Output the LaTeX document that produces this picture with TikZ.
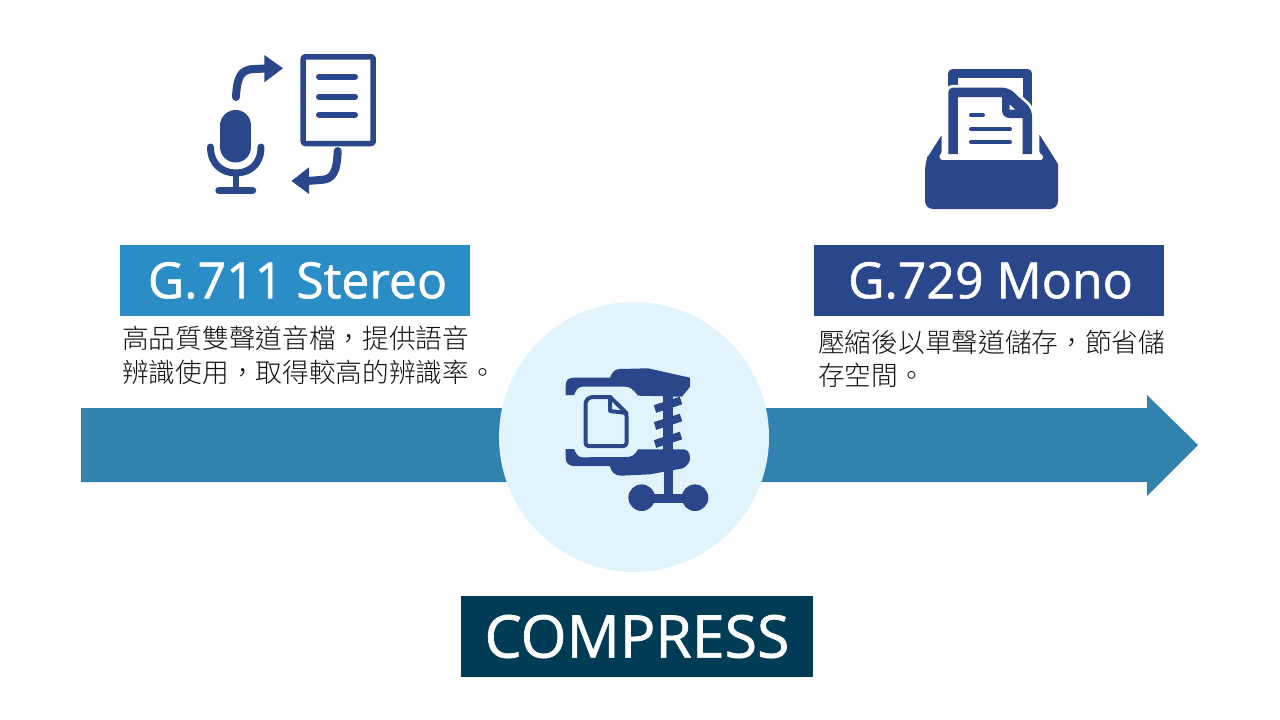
\documentclass[tikz,border=0pt]{standalone}
\usepackage{fontspec}
\setmainfont{Open Sans}
\newfontfamily\titlefont[FakeBold=1.1]{Open Sans}
\newfontfamily\cjkfont{Noto Sans CJK TC Light}
\definecolor{iconblue}{HTML}{2B478B}
\definecolor{stereoblue}{HTML}{2A8DC5}
\definecolor{arrowblue}{HTML}{3282B0}
\definecolor{circleblue}{HTML}{E1F4FE}
\definecolor{compressblue}{HTML}{003C55}
\definecolor{bodygray}{HTML}{111111}
\tikzset{
titlebox/.style={minimum width=350pt,minimum height=71pt,inner sep=0pt,text=white,font=\titlefont\fontsize{50}{50}\selectfont},
bodytext/.style={anchor=west,inner sep=0pt,text=bodygray,font=\cjkfont\fontsize{26.7}{26.7}\selectfont},
iconline/.style={draw=iconblue,line cap=round,line join=round},
iconfill/.style={fill=iconblue,line join=round}
}
\begin{document}
\begin{tikzpicture}[x=1pt,y=-1pt,line join=round,line cap=round]
\useasboundingbox (0,0) rectangle (1280,720);
% long arrow
\fill[arrowblue] (81,408)--(1147,408)--(1147,395)--(1198,445)--(1147,496)--(1147,482)--(81,482)--cycle;
\node[circle,fill=circleblue,minimum size=270pt,inner sep=0pt] (hub) at (634,437) {};
% titles
\node[titlebox,fill=stereoblue] (stereo) at (295,280.5) {\hspace{5pt}G.711 Stereo};
\node[titlebox,fill=iconblue] (mono) at (989,280.5) {\hspace{3pt}G.729 Mono};
\node[titlebox,fill=compressblue,minimum width=352pt,minimum height=81pt,font=\titlefont\fontsize{59}{59}\selectfont] (compress) at (637,636.5) {COMPRESS};
\node[bodytext] (stereoa) at (122,338) {高品質雙聲道音檔，提供語音};
\node[bodytext] (stereob) at (122,372) {辨識使用，取得較高的辨識率。};
\node[bodytext] (monoa) at (818,342) {壓縮後以單聲道儲存，節省儲};
\node[bodytext] (monob) at (818,375) {存空間。};
% microphone and document
\draw[iconline,line width=31pt] (235.8,125.5)--(235.8,147);
\draw[iconline,line width=7pt] (210.5,147) .. controls (210.5,164) and (222,173) .. (235.8,173) .. controls (250,173) and (261,164) .. (261,147);
\draw[iconline,line width=6.5pt] (235.8,173)--(235.8,190);
\draw[iconline,line width=7.5pt] (219,190.5)--(252.5,190.5);
\draw[iconline,line width=8pt] (236,97) .. controls (237,78) and (240,69) .. (255,69)--(266,68.5);
\fill[iconblue] (264.3,55)--(283,68.3)--(264.3,82.3)--cycle;
\draw[draw=iconblue,line width=5.5pt,rounded corners=2pt,fill=white] (303.2,56.8) rectangle (373.2,143.5);
\foreach \y in {76.7,96.7,114.7}
{\draw[iconline,line width=6pt] (319,\y)--(355,\y);}
\draw[iconline,line width=8pt] (337.7,151) .. controls (337,170) and (334,180) .. (320,180)--(307,181);
\fill[iconblue] (309,167.3)--(291.5,181)--(309,194)--cycle;
% tray
\draw[draw=iconblue,line width=9.5pt,line cap=butt] (953,90)--(953,73.3)--(1027.3,73.3)--(1027.3,106);
\draw[draw=white,line width=15pt,line cap=butt] (953,154)--(953,92.3)--(1000,92.3) .. controls (1008,92.3) and (1010,95) .. (1015,100)--(1024,108) .. controls (1026,110) and (1027.3,113) .. (1027.3,118)--(1027.3,154);
\draw[draw=iconblue,line width=9.5pt,line cap=butt] (953,154)--(953,92.3)--(1000,92.3) .. controls (1008,92.3) and (1010,95) .. (1015,100)--(1024,108) .. controls (1026,110) and (1027.3,113) .. (1027.3,118)--(1027.3,154);
\fill[iconblue] (1002,92)--(1030,118)--(1010,118) .. controls (1005,118) and (1002,115) .. (1002,110)--cycle;
\fill[white] (1009.5,104.5)--(1015,109.5)--(1009.5,109.5)--cycle;
\draw[iconline,line width=4pt] (971,115.3)--(983,115.3);
\draw[iconline,line width=4pt] (971,129.3)--(1010,129.3);
\draw[iconline,line width=4pt] (971,142.3)--(1010,142.3);
\fill[iconfill] (941.7,135) [rounded corners=1pt]--(927,158) [rounded corners=8pt]--(925,164)--(925,209)--(1058,209) [rounded corners=1pt]--(1058,164)--(1039.3,134.3)--(1039.3,152)--(1043.5,156.5)--(1042,160)--(941,160)--(939,156.5)--(941.7,152)--cycle;
% clamp
\fill[iconfill] (565.7,395)--(565.7,386) .. controls (565.7,380) and (568,377.7) .. (574,377.7)--(610,377.7) .. controls (612,372) and (615,369) .. (620,369)--(648,368.3)--(690,377.7)--(690,386.7)--(682,396.7)--(638,395.7) .. controls (633,389) and (630,386.7) .. (625,386.7)--(582,386.7) .. controls (578,387) and (576,390) .. (574,395)--cycle;
\fill[iconfill] (565.7,449)--(565.7,458) .. controls (565.7,463) and (569,466) .. (574,466)--(610,466) .. controls (611,472) and (615,475.7) .. (621,475.7)--(650,474.3)--(683,468.3) .. controls (688,465) and (690,462) .. (690,458) .. controls (690,452) and (687,449.3) .. (683,449.3)--(638,449.3) .. controls (634,456) and (632,457) .. (625,457)--(582,457.3) .. controls (578,457) and (576,454) .. (574,449)--cycle;
\fill[iconblue] (663.3,392) rectangle (673.3,452);
\foreach \y in {409,426,444}
{\draw[draw=iconblue,line width=8pt,line cap=butt] (655,\y)--(681,\y-8.5);}
\fill[iconblue] (664,468) rectangle (673.3,500);
\fill[iconblue] (640,493.5) rectangle (695,503);
\fill[iconblue] (641.7,497.7) circle (13.3) (695,497.7) circle (13.3);
\draw[draw=iconblue,line width=4pt,rounded corners=3pt] (610,397)--(590,397)--(585.5,401)--(585.5,446)--(626.5,446)--(626.5,413)--(610,397);
\draw[draw=iconblue,line width=4pt] (610,397)--(610,411)--(626.5,413);
\end{tikzpicture}
\end{document}
